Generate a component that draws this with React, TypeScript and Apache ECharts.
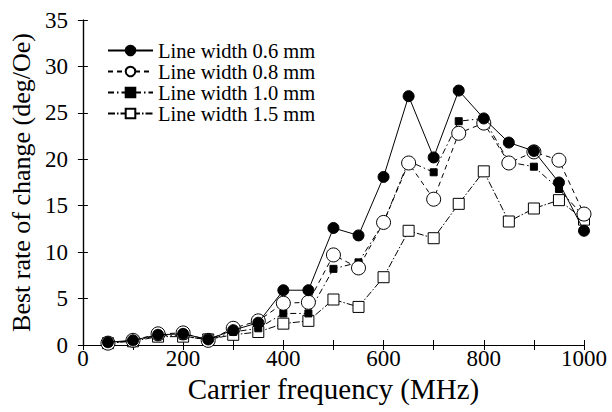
import React, { useEffect, useRef } from "react";
import * as echarts from "echarts";

const frequencies = [50, 100, 150, 200, 250, 300, 350, 400, 450, 500, 550, 600, 650, 700, 750, 800, 850, 900, 950, 1000];
const width06 = [0.3, 0.5, 1.1, 1.2, 0.6, 1.6, 2.4, 5.9, 5.9, 12.6, 11.8, 18.1, 26.8, 20.2, 27.4, 24.4, 21.8, 20.9, 17.5, 12.3];
const width08 = [0.2, 0.5, 1.2, 1.3, 0.5, 1.8, 2.6, 4.5, 4.6, 9.7, 8.3, 13.2, 19.6, 15.7, 22.8, 23.9, 19.6, 20.8, 19.9, 14.1];
const width10 = [0.2, 0.5, 1.0, 1.0, 0.5, 1.4, 1.8, 3.4, 3.4, 8.2, 8.9, 13.2, 19.8, 18.6, 24.1, 24.4, 19.7, 19.2, 16.8, 13.8];
const width15 = [0.2, 0.4, 0.9, 0.9, 0.6, 1.1, 1.4, 2.3, 2.6, 4.9, 4.1, 7.3, 12.3, 11.5, 15.2, 18.7, 13.3, 14.7, 15.6, 13.5];
const seriesNames = ["Line width 0.6 mm", "Line width 0.8 mm", "Line width 1.0 mm", "Line width 1.5 mm"];
const yTicks = [0, 5, 10, 15, 20, 25, 30, 35];

const FONT = "Liberation Serif";

export default function App() {
  const ref = useRef<HTMLDivElement>(null);
  useEffect(() => {
    if (!ref.current) return;
    const chart = echarts.init(ref.current, undefined, { renderer: "svg" });
    const pair = (ys: number[]) => frequencies.map((f, i) => [f, ys[i]]);
    const tickStyle = { show: true, inside: true, length: 5, lineStyle: { color: "#000", width: 1 } };
    const axisLine = { show: true, lineStyle: { color: "#000", width: 1.2 } };
    const option: any = {
      animation: false,
      backgroundColor: "#fff",
      grid: { left: 79, right: 28, top: 20, bottom: 67 },
      legend: {
        data: seriesNames,
        orient: "vertical",
        left: 107,
        top: 40,
        padding: 0,
        itemWidth: 45,
        itemHeight: 12,
        itemGap: 0,
        textStyle: { fontFamily: FONT, fontSize: 20.5, lineHeight: 20.5, color: "#000" },
      },
      xAxis: [
        {
          type: "value",
          min: 0,
          max: 1000,
          interval: 100,
          name: "Carrier frequency (MHz)",
          nameLocation: "middle",
          nameGap: 29,
          nameTextStyle: { fontFamily: FONT, fontSize: 29, color: "#000" },
          axisLine,
          axisTick: tickStyle,
          splitLine: { show: false },
          axisLabel: {
            fontFamily: FONT,
            fontSize: 23,
            color: "#000",
            margin: 2,
            formatter: (v: number) => (v % 200 === 0 ? String(v) : ""),
          },
        },
        {
          type: "value",
          position: "top",
          min: 0,
          max: 1000,
          interval: 100,
          axisLine,
          axisTick: tickStyle,
          splitLine: { show: false },
          axisLabel: { show: false },
        },
      ],
      yAxis: [
        {
          type: "value",
          min: yTicks[0],
          max: yTicks[yTicks.length - 1],
          interval: 5,
          name: "Best rate of change (deg/Oe)",
          nameLocation: "middle",
          nameGap: 41,
          nameTextStyle: { fontFamily: FONT, fontSize: 26, color: "#000" },
          axisLine,
          axisTick: tickStyle,
          splitLine: { show: false },
          axisLabel: { fontFamily: FONT, fontSize: 23, color: "#000", margin: 15 },
        },
        {
          type: "value",
          position: "right",
          min: yTicks[0],
          max: yTicks[yTicks.length - 1],
          interval: 5,
          axisLine,
          axisTick: tickStyle,
          splitLine: { show: false },
          axisLabel: { show: false },
        },
      ],
      series: [
        {
          name: seriesNames[0],
          type: "line",
          data: pair(width06),
          symbol: "circle",
          symbolSize: 11,
          lineStyle: { color: "#000", width: 1, type: "solid" },
          itemStyle: { color: "#000", borderColor: "#000", borderWidth: 1 },
          z: 5,
        },
        {
          name: seriesNames[1],
          type: "line",
          data: pair(width08),
          symbol: "circle",
          symbolSize: 14,
          lineStyle: { color: "#000", width: 1, type: [5, 4] },
          itemStyle: { color: "#fff", borderColor: "#000", borderWidth: 1 },
          z: 4,
        },
        {
          name: seriesNames[2],
          type: "line",
          data: pair(width10),
          symbol: "rect",
          symbolSize: 7,
          lineStyle: { color: "#000", width: 1, type: [6, 3, 1.5, 3] },
          itemStyle: { color: "#000", borderColor: "#000", borderWidth: 1 },
          z: 3,
        },
        {
          name: seriesNames[3],
          type: "line",
          data: pair(width15),
          symbol: "rect",
          symbolSize: 11,
          lineStyle: { color: "#000", width: 1, type: [7, 2, 1.5, 2] },
          itemStyle: { color: "#fff", borderColor: "#000", borderWidth: 1 },
          z: 2,
        },
      ],
    };
    chart.setOption(option);
    return () => chart.dispose();
  }, []);
  return <div ref={ref} style={{ width: 612, height: 412, position: "absolute", left: 0, top: 0 }} />;
}
